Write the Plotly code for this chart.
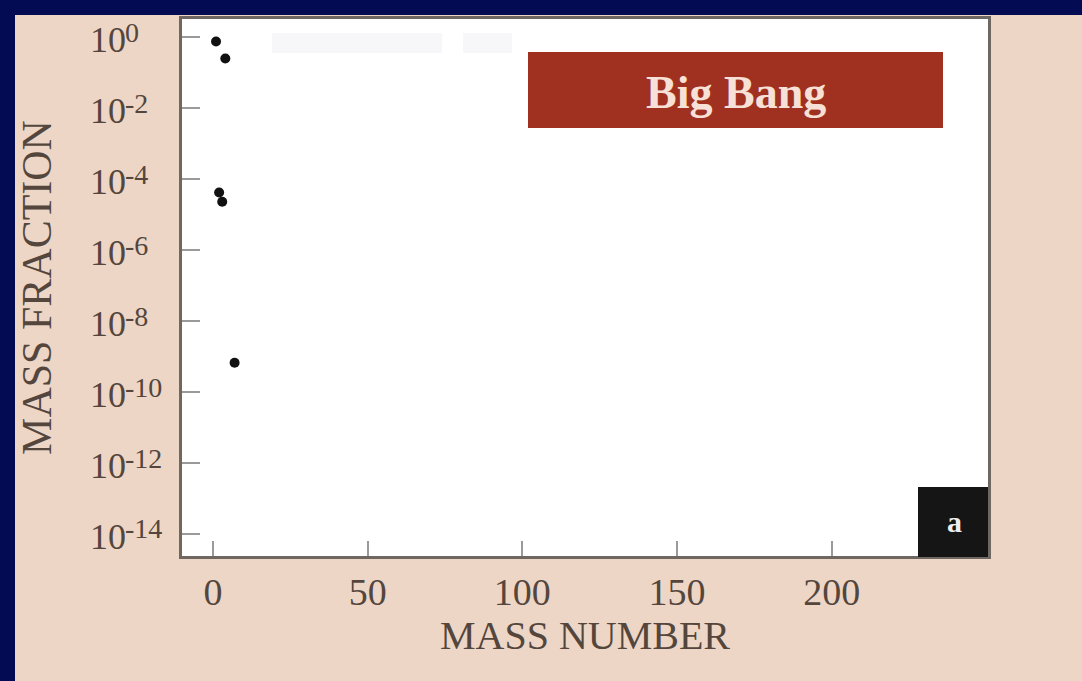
import plotly.graph_objects as go

# Data (mass number, mass fraction) for Big Bang nucleosynthesis products
mass_number = [1, 2, 3, 4, 7]
mass_fraction = [0.75, 4.2e-5, 2.3e-5, 0.25, 6.7e-10]

x_tickvals = [0, 50, 100, 150, 200]
y_exponents = [0, -2, -4, -6, -8, -10, -12, -14]
y_tickvals = [10.0 ** e for e in y_exponents]
y_tick_base = "10"
y_tick_exp = ["%d" % e for e in y_exponents]

W, H = 1082, 681
L, R, T, B = 182, 94, 19, 125
PW, PH = W - L - R, H - T - B

def px(x):
    return (x - L) / PW

def py(y):
    return (H - B - y) / PH

NAVY = "#030c52"
BEIGE = "#edd6c6"
TXT = "#54463d"
AXC = "#6f6862"
FONT = "Liberation Serif, Times New Roman, serif"

fig = go.Figure()
fig.add_trace(go.Scatter(
    x=mass_number, y=mass_fraction, mode="markers",
    marker=dict(color="#111111", size=10),
    showlegend=False,
))

shapes = [
    # navy frame strips
    dict(type="rect", xref="paper", yref="paper", x0=px(-5), x1=px(15), y0=py(H + 5), y1=py(-5),
         fillcolor=NAVY, line=dict(width=0), layer="above"),
    dict(type="rect", xref="paper", yref="paper", x0=px(-5), x1=px(W + 5), y0=py(15), y1=py(-5),
         fillcolor=NAVY, line=dict(width=0), layer="above"),
    # faint erased areas
    dict(type="rect", xref="paper", yref="paper", x0=px(272), x1=px(442), y0=py(53), y1=py(33),
         fillcolor="#f7f7f9", line=dict(width=0), layer="below"),
    dict(type="rect", xref="paper", yref="paper", x0=px(463), x1=px(512), y0=py(53), y1=py(33),
         fillcolor="#f7f7f9", line=dict(width=0), layer="below"),
    # Big Bang box
    dict(type="rect", xref="paper", yref="paper", x0=px(528), x1=px(943), y0=py(128), y1=py(52),
         fillcolor="#a0301f", line=dict(width=0), layer="above"),
    # "a" box
    dict(type="rect", xref="paper", yref="paper", x0=px(918), x1=px(988), y0=py(557), y1=py(487),
         fillcolor="#151515", line=dict(width=0), layer="above"),
]

annotations = [
    dict(text="<b>Big Bang</b>", xref="paper", yref="paper", x=px(736), y=py(93),
         showarrow=False, font=dict(family=FONT, size=46, color="#f7e0d6"),
         xanchor="center", yanchor="middle"),
    dict(text="<b>a</b>", xref="paper", yref="paper", x=px(954), y=py(521),
         showarrow=False, font=dict(family=FONT, size=30, color="#eeeeee"),
         xanchor="center", yanchor="middle"),
]
# left-aligned y tick labels (base + raised exponent), placed on the log axis at each tick value
for e, t in zip(y_exponents, y_tick_exp):
    annotations.append(dict(
        text=y_tick_base, xref="paper", yref="y", x=px(88), y=e, showarrow=False,
        xanchor="left", yanchor="middle", yshift=-3,
        font=dict(family=FONT, size=36, color=TXT),
    ))
    annotations.append(dict(
        text=t, xref="paper", yref="y", x=px(123), y=e, showarrow=False,
        xanchor="left", yanchor="middle", yshift=5,
        font=dict(family=FONT, size=28, color=TXT),
    ))

fig.update_layout(
    width=W, height=H,
    margin=dict(l=L, r=R, t=T, b=B, pad=0),
    paper_bgcolor=BEIGE, plot_bgcolor="#ffffff",
    shapes=shapes, annotations=annotations,
    font=dict(family=FONT, color=TXT, size=36),
    xaxis=dict(
        range=[-10, 250.5], tickvals=x_tickvals, ticks="inside", ticklen=15, tickwidth=2,
        tickcolor="#9a9a9a", showline=True, linecolor=AXC, linewidth=3, mirror=True,
        showgrid=False, zeroline=False,
        tickfont=dict(family=FONT, size=38, color=TXT),
        title=dict(text="MASS NUMBER", font=dict(family=FONT, size=40, color=TXT), standoff=2),
    ),
    yaxis=dict(
        type="log", range=[-14.62, 0.51], tickvals=y_tickvals, ticktext=[""] * len(y_tickvals),
        ticks="inside", ticklen=18, tickwidth=2, tickcolor="#9a9a9a",
        showline=True, linecolor=AXC, linewidth=3, mirror=True,
        showgrid=False, zeroline=False, showticklabels=True,
        title=dict(text="MASS FRACTION", font=dict(family=FONT, size=42, color=TXT), standoff=108),
    ),
)

fig.write_html("out.html")
